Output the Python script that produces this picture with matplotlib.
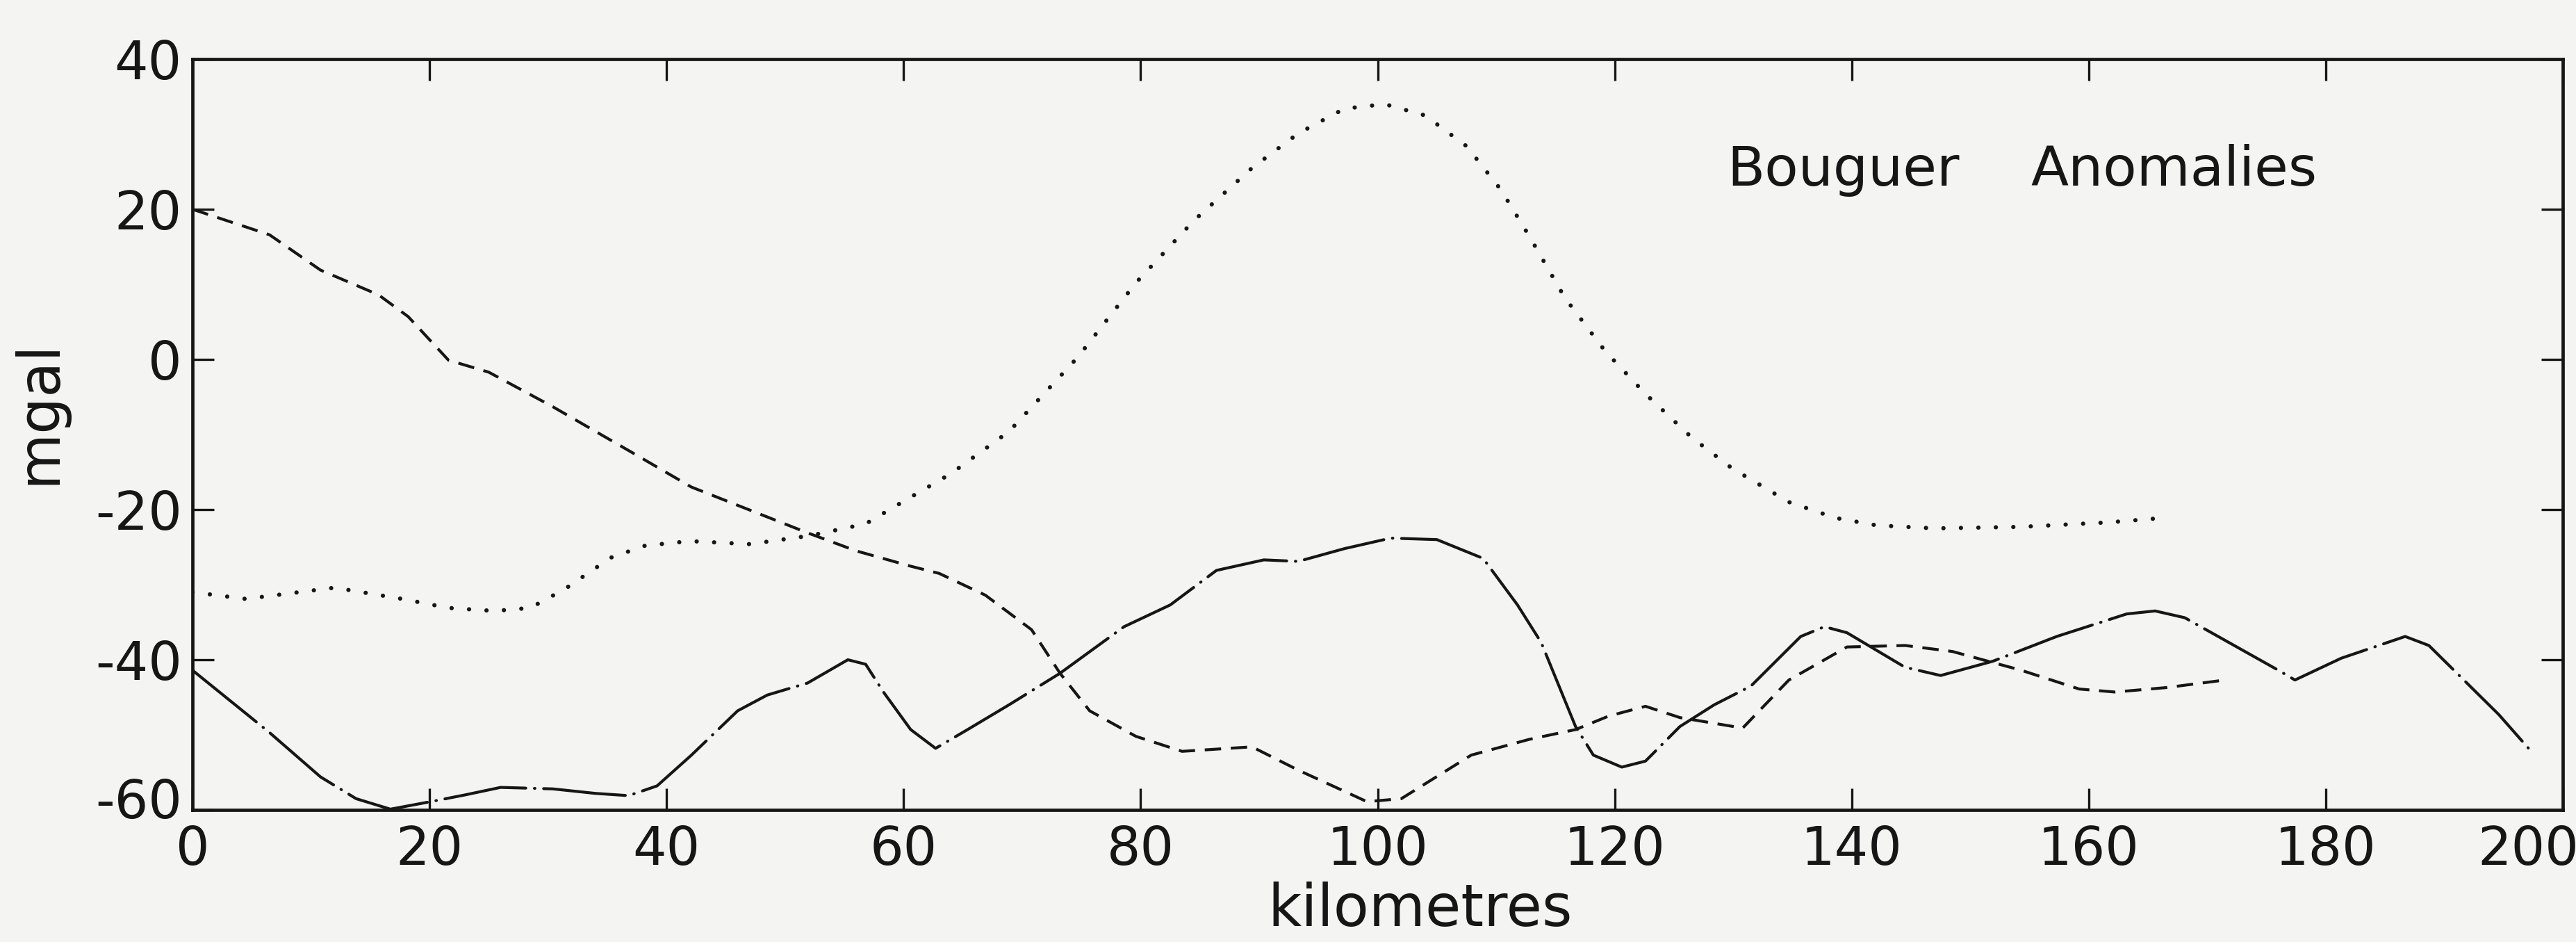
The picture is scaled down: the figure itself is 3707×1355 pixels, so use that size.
import matplotlib
matplotlib.use('Agg')
from matplotlib import pyplot as plt
import matplotlib.transforms as mtransforms

plt.rcParams['font.family'] = ['DejaVu Sans']
plt.rcParams['axes.unicode_minus'] = False
plt.rcParams['lines.scale_dashes'] = False

# dashed curve
dash_x = [0, 6.5, 10.8, 15.7, 18.2, 21.6, 25, 30.4, 37.2, 42.1, 51.9, 56, 60.5, 63, 66.9,
          70.8, 73.2, 75.7, 79.6, 83.5, 89.4, 93.3, 99.1, 102, 107.9, 112.8, 116.7, 119.5,
          122.6, 125.5, 130.8, 134.7, 139.6, 144.5, 148.5, 154.3, 159.2, 162.2, 166.6, 171.5]
dash_y = [20, 16.6, 11.9, 8.6, 5.7, -0.1, -1.7, -6.3, -12.5, -17, -23.1, -25.5, -27.5, -28.5, -31.4,
          -36, -41.8, -46.8, -50.2, -52.2, -51.6, -54.7, -58.9, -58.5, -52.7, -50.6, -49.3, -47.5,
          -46.2, -47.7, -49.1, -42.7, -38.3, -38.1, -38.9, -41.4, -43.9, -44.3, -43.7, -42.7]

# dotted curve
dot_x = [0, 4.5, 12, 17.7, 21.6, 25.5, 28.5, 31.4, 35.3, 38.2, 42, 47, 52, 56.8, 60, 64,
         68.9, 74.7, 79.6, 84.5, 89.4, 93.3, 97.2, 100.6, 104, 107.5, 110.4, 112.8, 115.8,
         119.2, 122.6, 126.5, 129.9, 134.7, 138.6, 142.1, 147, 154.3, 161.7, 165.6]
dot_y = [-31, -31.9, -30.4, -31.9, -33.1, -33.5, -33.1, -30.6, -26.4, -24.8, -24.2, -24.6,
         -23.5, -21.9, -18.9, -15.2, -9.6, 0.3, 10.2, 18.5, 25.5, 30.1, 33.4, 34, 32.5, 28.4,
         22.6, 16.4, 8.2, 1.1, -4.6, -10.4, -14.5, -19.0, -21.1, -22.1, -22.5, -22.3, -21.7, -21.2]

# long dash - dot curve
dd_x = [0, 6.5, 10.8, 13.8, 16.7, 20.1, 23, 26, 30.4, 34, 36.8, 39.2, 42.1, 46, 48.5, 51.9,
        55.3, 56.8, 58.3, 60.6, 62.7, 65.4, 68.9, 73.2, 78.6, 82.5, 86.4, 90.4, 93.3, 97.2,
        101.1, 105, 108.9, 111.8, 113.8, 116.7, 118.2, 120.6, 122.6, 125.5, 128.4, 131.5,
        135.7, 137.7, 139.6, 144.5, 147.5, 151.9, 157.3, 163.2, 165.6, 168.1, 176, 177.4,
        181.3, 186.7, 188.7, 194.6, 197.5]
dd_y = [-41.4, -49.7, -55.6, -58.5, -59.9, -58.9, -58, -57, -57.2, -57.8, -58.1, -56.8, -52.7,
        -46.8, -44.7, -43.1, -40, -40.6, -44.3, -49.3, -51.8, -49.3, -46, -41.8, -35.6, -32.7,
        -28.1, -26.7, -26.9, -25.2, -23.8, -24, -26.5, -32.7, -37.7, -48.9, -52.7, -54.3,
        -53.5, -48.9, -46, -43.5, -36.9, -35.6, -36.4, -41, -42.1, -40.2, -36.9, -33.9, -33.5,
        -34.4, -41.4, -42.7, -39.8, -36.9, -38.1, -47.3, -52.5]

x_ticks = [0, 20, 40, 60, 80, 100, 120, 140, 160, 180, 200]
y_ticks = [-60, -40, -20, 0, 20, 40]

bg = '#f4f4f2'
ink = '#161616'

fig = plt.figure(figsize=(37.07, 13.55), dpi=100, facecolor=bg)
ax = fig.add_axes([277 / 3707, 1 - 1165 / 1355, 3411 / 3707, 1080 / 1355])
ax.set_facecolor(bg)

ax.plot(dash_x, dash_y, color=ink, lw=3.0, linestyle=(0, (17, 10)))
ax.plot(dot_x, dot_y, color=ink, lw=4.4, linestyle=(0, (0.1, 18)), dash_capstyle='round')
ax.plot(dd_x, dd_y, color=ink, lw=3.0, linestyle=(0, (85, 9, 0.5, 9)), dash_capstyle='round')

ax.set_xlim(0, 200)
ax.set_ylim(-60, 40)
ax.set_xticks(x_ticks)
ax.set_yticks(y_ticks)
ax.tick_params(direction='in', length=22, width=2.4, labelsize=55, colors=ink,
               top=True, right=True)
ax.tick_params(axis='x', pad=15)
ax.tick_params(axis='y', pad=11)
for s in ax.spines.values():
    s.set_linewidth(3.4)
    s.set_color(ink)

# last x label sits inside the page, bottom y label lifted off the corner
lab = ax.get_xticklabels()[-1]
lab.set_transform(lab.get_transform() + mtransforms.ScaledTranslation(-0.5, 0, fig.dpi_scale_trans))
lab = ax.get_yticklabels()[0]
lab.set_transform(lab.get_transform() + mtransforms.ScaledTranslation(0, 0.17, fig.dpi_scale_trans))

ax.set_xlabel('kilometres', fontsize=60, color=ink, va='baseline')
ax.xaxis.set_label_coords(0.518, -0.155)
ax.set_ylabel('mgal', fontsize=60, color=ink)
ax.yaxis.set_label_coords(-0.053, 0.53)

ax.text(129.5, 25.2, 'Bouguer', fontsize=57, color=ink, va='center', ha='left')
ax.text(155.1, 25.2, 'Anomalies', fontsize=57, color=ink, va='center', ha='left')

fig.savefig('out.png', dpi=100, facecolor=bg)
